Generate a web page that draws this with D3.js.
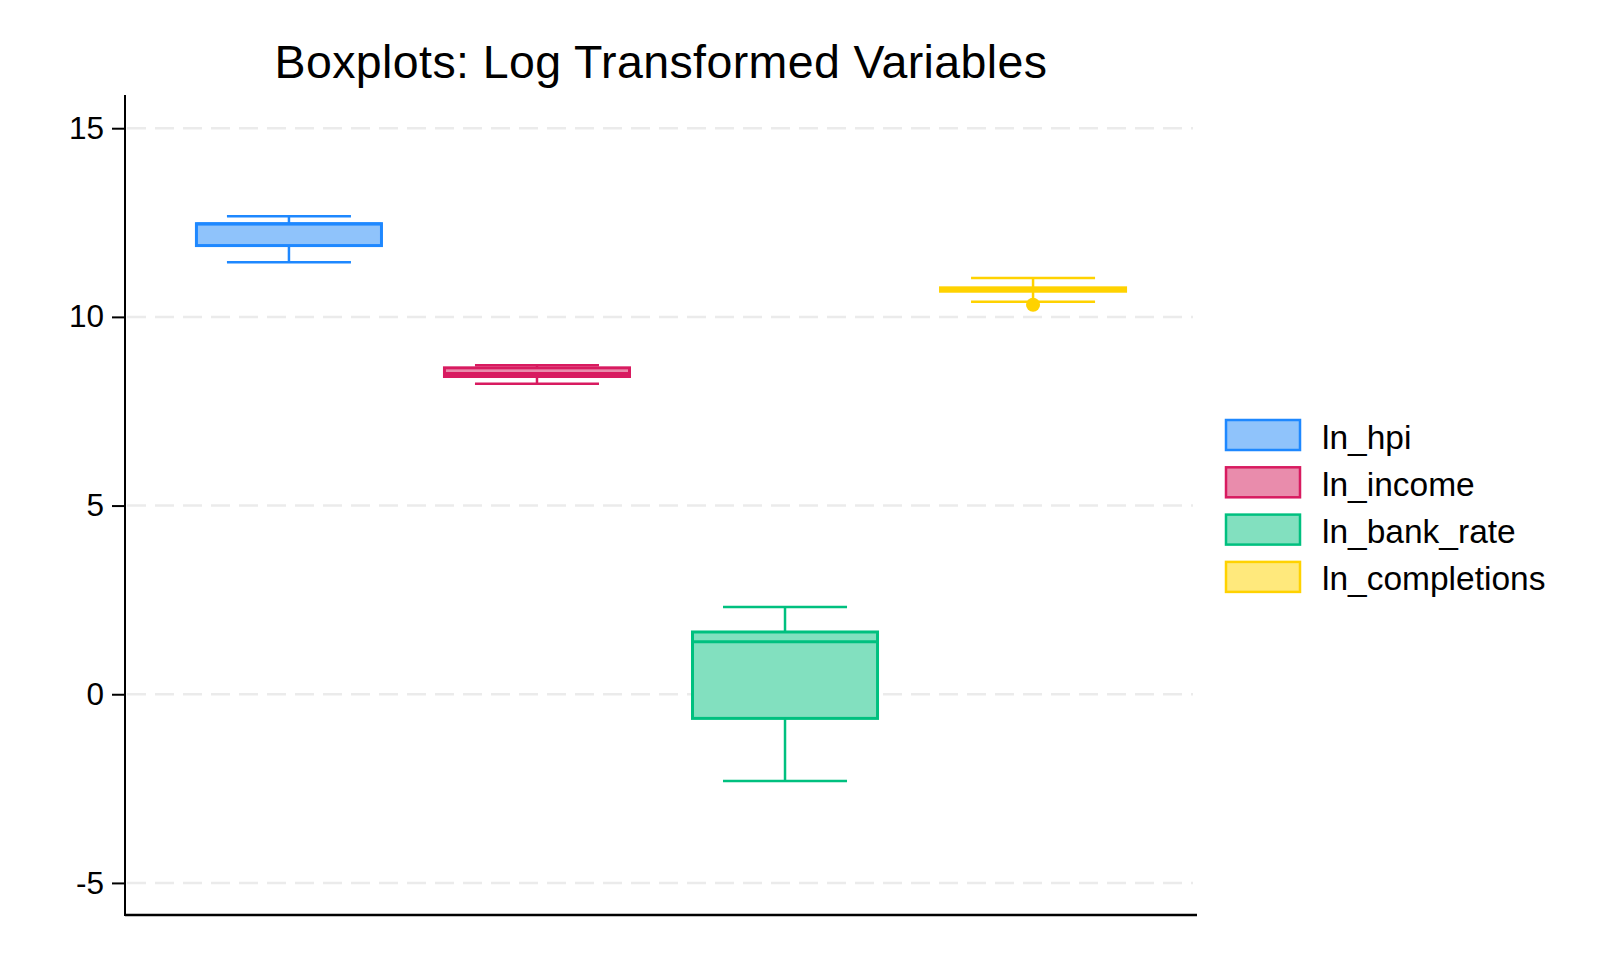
<!DOCTYPE html>
<html>
<head>
<meta charset="utf-8">
<script src="https://cdn.jsdelivr.net/npm/d3@7"></script>
<style>
  html, body { margin: 0; padding: 0; background: #fff; }
  svg { display: block; font-family: "Liberation Sans", Arial, Helvetica, sans-serif; }
</style>
</head>
<body>
<svg id="chart" width="1620" height="972"></svg>
<script>
// ---- data ----
const categories = ["ln_hpi", "ln_income", "ln_bank_rate", "ln_completions"];
const whiskerLow  = [11.45, 8.23, -2.30, 10.40];
const q1Values    = [11.89, 8.42, -0.64, 10.68];
const medians     = [12.46, 8.50,  1.39, 10.73];
const q3Values    = [12.47, 8.65,  1.65, 10.77];
const whiskerHigh = [12.67, 8.72,  2.31, 11.03];
const outliers    = [[], [], [], [10.32]];
const yTicks      = [-5, 0, 5, 10, 15];
const strokeColors = ["#1e88ff", "#d81b60", "#00c07f", "#ffd200"];
const fillColors   = ["#8fc3fb", "#e98cac", "#82e0bf", "#ffe97c"];
const chartTitle = "Boxplots: Log Transformed Variables";

// ---- layout ----
const svg = d3.select("#chart");
const plotLeft = 125, plotRight = 1197, plotTop = 95, plotBottom = 915;

const y = d3.scaleLinear().domain([-5.85, 15.88]).range([plotBottom, plotTop]);
const x = d3.scalePoint().domain(categories).range([plotLeft, plotRight]).padding(0.661);
const step = x.step();
const boxW = step * 0.746;
const capW = step * 0.5;

// gridlines
svg.append("g").selectAll("line").data(yTicks).join("line")
  .attr("x1", plotLeft + 2).attr("x2", 1193)
  .attr("y1", d => y(d)).attr("y2", d => y(d))
  .attr("stroke", "#ebebeb").attr("stroke-width", 2.5)
  .attr("stroke-dasharray", "19,9");

// y axis
const yAxis = d3.axisLeft(y).tickValues(yTicks).tickSize(13).tickPadding(8)
  .tickFormat(d => String(d));
const gy = svg.append("g").attr("transform", `translate(${plotLeft},0)`).call(yAxis);
gy.select(".domain").remove();
gy.selectAll(".tick line").attr("stroke", "#000").attr("stroke-width", 2);
gy.selectAll(".tick text").attr("fill", "#000").style("font-size", "31.5px")
  .style("font-family", '"Liberation Sans", Arial, sans-serif');
svg.append("line").attr("x1", plotLeft).attr("x2", plotLeft).attr("y1", plotTop).attr("y2", plotBottom + 1)
  .attr("stroke", "#000").attr("stroke-width", 2);
// x axis line
const xAxis = d3.axisBottom(x).tickSize(0).tickFormat("");
const gx = svg.append("g").attr("transform", `translate(0,${plotBottom})`).call(xAxis);
gx.select(".domain").attr("stroke", "#000").attr("stroke-width", 2.5)
  .attr("d", `M${plotLeft},0H${plotRight}`);

// boxes
const data = categories.map((c, i) => ({
  c, i, lo: whiskerLow[i], q1: q1Values[i], med: medians[i], q3: q3Values[i], hi: whiskerHigh[i], out: outliers[i]
}));
const g = svg.append("g");
data.forEach(d => {
  const cx = x(d.c);
  const col = strokeColors[d.i];
  const gg = g.append("g");
  gg.append("line").attr("x1", cx).attr("x2", cx).attr("y1", y(d.q3)).attr("y2", y(d.hi))
    .attr("stroke", col).attr("stroke-width", 2.5);
  gg.append("line").attr("x1", cx).attr("x2", cx).attr("y1", y(d.q1)).attr("y2", y(d.lo))
    .attr("stroke", col).attr("stroke-width", 2.5);
  [d.hi, d.lo].forEach(v => {
    gg.append("line").attr("x1", cx - capW / 2).attr("x2", cx + capW / 2)
      .attr("y1", y(v)).attr("y2", y(v)).attr("stroke", col).attr("stroke-width", 2.5);
  });
  gg.append("rect").attr("x", cx - boxW / 2).attr("width", boxW)
    .attr("y", y(d.q3)).attr("height", Math.max(0.5, y(d.q1) - y(d.q3)))
    .attr("fill", fillColors[d.i]).attr("stroke", col).attr("stroke-width", 3);
  gg.append("line").attr("x1", cx - boxW / 2).attr("x2", cx + boxW / 2)
    .attr("y1", y(d.med)).attr("y2", y(d.med)).attr("stroke", col).attr("stroke-width", 3);
  gg.selectAll("circle").data(d.out).join("circle")
    .attr("cx", cx).attr("cy", v => y(v)).attr("r", 7).attr("fill", col);
});

// title
svg.append("text").attr("x", 661).attr("y", 78).attr("text-anchor", "middle")
  .style("font-size", "46.5px").style("letter-spacing", "0.4px")
  .attr("fill", "#000").text(chartTitle);

// legend
const legend = svg.append("g").attr("transform", "translate(1226,420)");
categories.forEach((c, i) => {
  const row = legend.append("g").attr("transform", `translate(0,${i * 47.3})`);
  row.append("rect").attr("x", 0).attr("y", 0).attr("width", 74).attr("height", 30)
    .attr("fill", fillColors[i]).attr("stroke", strokeColors[i]).attr("stroke-width", 2.5);
  row.append("text").attr("x", 96).attr("y", 28.5).style("font-size", "33.5px")
    .attr("fill", "#000").text(c);
});
</script>
</body>
</html>
